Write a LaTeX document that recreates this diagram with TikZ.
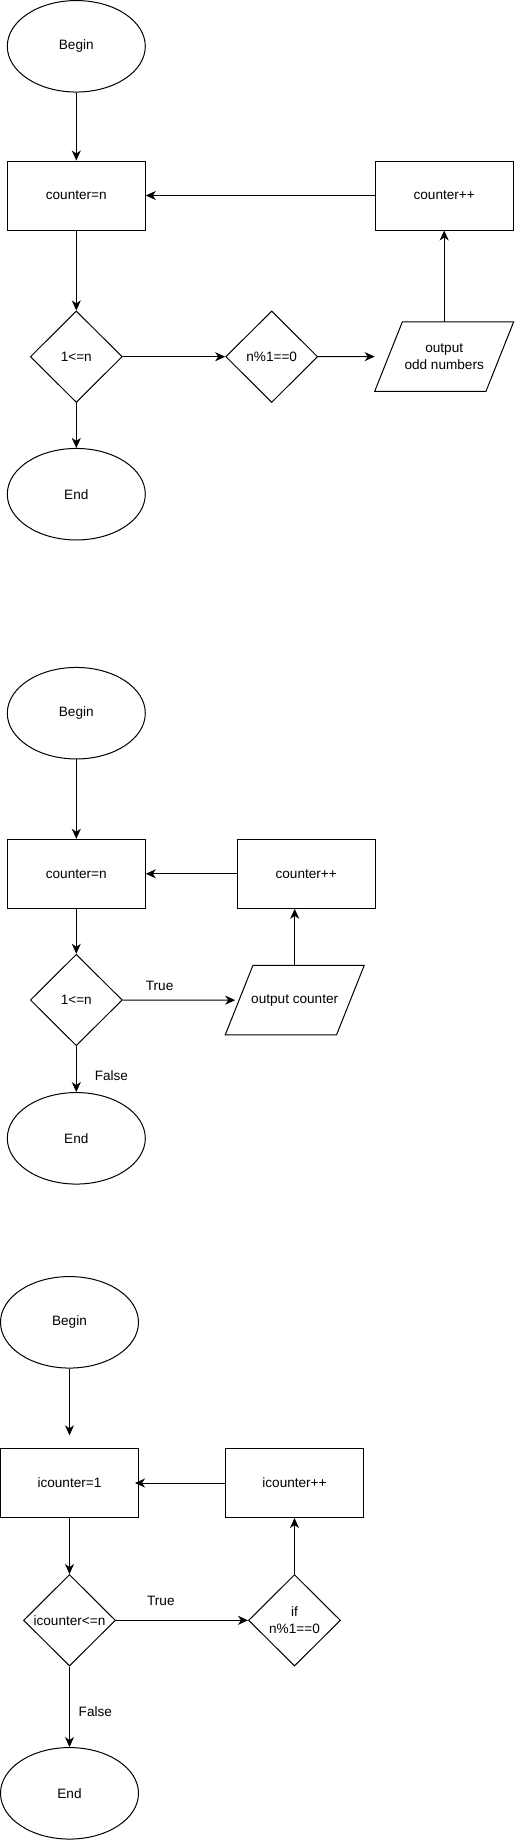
\documentclass[tikz,border=0pt]{standalone}
\usepackage{fontspec}
\setmainfont{Liberation Sans}
\usetikzlibrary{arrows.meta,shapes.geometric,positioning}

\begin{document}
\begin{tikzpicture}[x=1pt,y=-1pt,line width=1pt,
  every node/.style={font=\fontsize{13.6}{16.7}\selectfont,inner sep=0pt},
  term/.style={draw,ellipse,minimum width=138pt,minimum height=91.5pt},
  proc/.style={draw,rectangle,minimum width=138pt,minimum height=69pt},
  dec/.style={draw,diamond,minimum width=92pt,minimum height=91.5pt,align=center},
  io/.style={rectangle,minimum width=138pt,minimum height=68.5pt,align=center,
    append after command={\pgfextra{\draw ([xshift=27.7pt]\tikzlastnode.north west)
      -- (\tikzlastnode.north east) -- ([xshift=-27.7pt]\tikzlastnode.south east)
      -- (\tikzlastnode.south west) -- cycle;}}}]
\useasboundingbox (0,0) rectangle (514,1841);
% odd numbers
\node[term] (B1) at (76.3,46.3) {Begin};
\node[proc] (S1) at (76.3,195.5) {counter=n};
\node[proc] (I1) at (444.2,195.5) {counter++};
\node[dec] (T1) at (76.3,356.7) {1<=n};
\node[dec] (M1) at (271.7,356.7) {n\%1==0};
\node[io] (O1) at (444.2,356.5) {output\\odd numbers};
\node[term] (E1) at (76.3,494.2) {End};
\path[->,>={Stealth[length=10pt,width=9pt,inset=3pt]}]
(B1) edge (S1)
(S1) edge (T1)
(T1) edge (M1)
(M1) edge (O1)
(O1) edge (I1)
(I1) edge (S1)
(T1) edge (E1);
% counter loop
\node[term] (B2) at (76.3,713.2) {Begin};
\node[proc] (S2) at (76.3,873.8) {counter=n};
\node[proc] (I2) at (306.2,873.8) {counter++};
\node[dec] (T2) at (76.3,1000) {1<=n};
\node[io] (O2) at (294.7,1000.2) {output counter};
\node[term] (E2) at (76.3,1138.3) {End};
\path[->,>={Stealth[length=10pt,width=9pt,inset=3pt]}]
(B2) edge (S2)
(S2) edge (T2)
(T2) edge [shorten >=-10pt] node [above=9pt,pos=.36] {True} (O2)
(O2) edge (O2 |- I2.south)
(I2) edge (S2)
(T2) edge node [right=18pt,pos=.64] {False} (E2);
% icounter loop
\node[term] (B3) at (69.5,1322.3) {Begin};
\node[proc] (S3) at (69.5,1483) {icounter=1};
\node[proc] (I3) at (294.5,1483) {icounter++};
\node[dec] (T3) at (69.5,1620.3) {icounter<=n};
\node[dec] (M3) at (294.5,1620.3) {if\\n\%1==0};
\node[term] (E3) at (69.5,1793.3) {End};
\path[->,>={Stealth[length=10pt,width=9pt,inset=3pt]}]
(B3) edge [shorten >=12.7pt] (S3)
(S3) edge (T3)
(T3) edge node [above=14pt,pos=.34] {True} (M3)
(M3) edge (I3)
(I3) edge [shorten >=-4pt] (S3)
(T3) edge node [right=8.7pt,pos=.56] {False} (E3);
\end{tikzpicture}
\end{document}
